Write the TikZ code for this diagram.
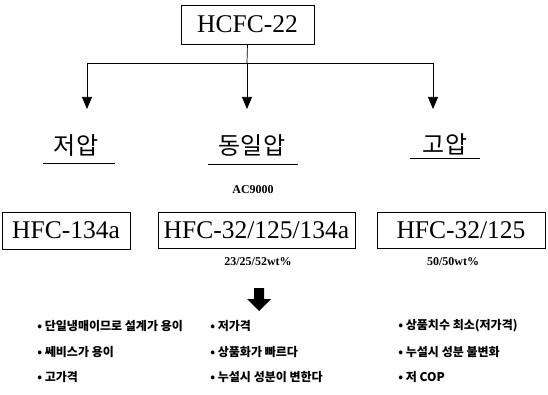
\documentclass[tikz,border=0pt]{standalone}
\usepackage{fontspec}
\setmainfont{Liberation Serif}
\newfontfamily\kr{Noto Sans CJK KR}
\usetikzlibrary{arrows.meta}
\tikzset{
refbox/.style={draw,inner sep=0pt,font=\fontsize{25.5}{26}\selectfont},
press/.style={inner sep=0pt,font=\kr\fontsize{24}{24}\selectfont},
note/.style={inner sep=0pt,font=\bfseries\fontsize{12}{12}\selectfont},
item/.style={anchor=west,inner sep=0pt,font=\kr\bfseries\fontsize{12}{12}\selectfont}
}
\begin{document}
\begin{tikzpicture}[x=1pt,y=-1pt,>={Triangle[width=10pt,length=12pt]},line width=0.7pt]
\useasboundingbox (0,0) rectangle (548,395);
\node[refbox,minimum width=133pt,minimum height=39pt] (hcfc) at (247.5,24.5) {HCFC-22};
\foreach \n/\x in {lo/87, eq/247, hi/433}{
\coordinate (top\n) at (\x,63);
\coordinate (tip\n) at (\x,109);
\draw[->] (top\n)--(tip\n);
}
\draw (toplo)--(tophi);
\draw (hcfc.south)--(topeq);
\node[press] (lablo) at (76,146) {저압};
\node[press] (labeq) at (252,146) {동일압};
\node[press] (labhi) at (445,144) {고압};
\foreach \a/\b/\u in {43/115/163, 208/298/164, 410/480/158}
\draw (\a,\u)--(\b,\u);
\node[note] (mix) at (253,190) {AC9000};
\node[refbox,minimum width=128pt,minimum height=37pt] (r134) at (66,230.5) {HFC-134a};
\node[refbox,minimum width=197pt,minimum height=36pt] (rtri) at (256.5,230) {HFC-32/125/134a};
\node[refbox,minimum width=168pt,minimum height=36pt] (rduo) at (461,230) {HFC-32/125};
\node[note] (wtri) at (258,262) {23/25/52wt\%};
\node[note] (wduo) at (453,262) {50/50wt\%};
\coordinate (dn) at (259,311);
\fill (dn)--++(-12,-12)--++(7,0)--++(0,-11)--++(10,0)--++(0,11)--++(7,0)--cycle;
\foreach \t/\x/\y [count=\i] in {단일냉매이므로 설계가 용이/37/326, 쎄비스가 용이/37/352, 고가격/37/377, 저가격/210/326, 상품화가 빠르다/210/352, 누설시 성분이 변한다/210/377, 상품치수 최소(저가격)/398/326, 누설시 성분 불변화/398/352, 저 COP/398/377}
\node[item] (it\i) at (\x,\y) {• \t};
\end{tikzpicture}
\end{document}
